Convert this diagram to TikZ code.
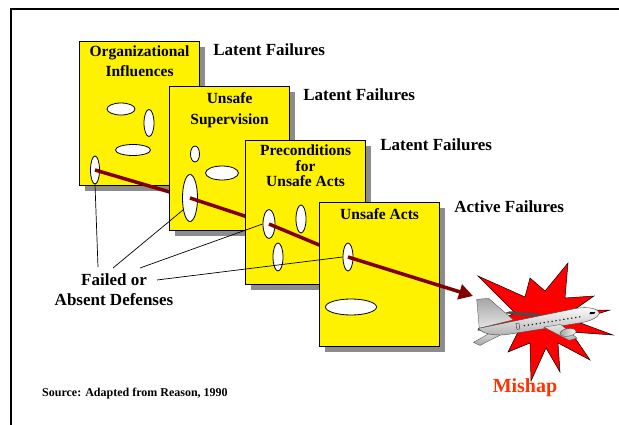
\documentclass[tikz,border=0pt]{standalone}
\usepackage{fontspec}
\setmainfont{Liberation Serif}
\usetikzlibrary{arrows.meta,positioning,calc,shapes.geometric,shadows}

\definecolor{maroon}{RGB}{128,0,0}
\definecolor{mishapred}{RGB}{255,51,0}

\tikzset{
  layer/.style={draw=black, line width=1.2pt, fill=yellow, anchor=north west,
    minimum width=120pt, minimum height=144pt, inner sep=0pt,
    drop shadow={shadow xshift=5pt, shadow yshift=-5pt, fill=gray!90, opacity=1}},
  title/.style={anchor=north, align=center, inner sep=0pt,
    font=\fontsize{15.5}{20}\selectfont\bfseries},
  failure/.style={anchor=west, inner sep=0pt, font=\fontsize{17}{20}\selectfont\bfseries},
  hole/.style={ellipse, draw=black, line width=0.8pt, fill=white, inner sep=0pt},
  trace/.style={maroon, line width=3.5pt},
  leader/.style={black, line width=0.7pt},
  metal/.style={draw=gray!50!black, line width=0.3pt},
}

\begin{document}
\begin{tikzpicture}[x=1pt, y=-1pt]
\useasboundingbox (0,0) rectangle (619,425);
% frame
\draw[line width=1.5pt] (11,425) -- (11,9) -- (619,9);

% where the trajectory passes each layer
\coordinate (g1) at (95,170);
\coordinate (g2) at (190,198);
\coordinate (g3) at (269,224);
\coordinate (g4) at (348,257);
\coordinate (tip) at (473,296);

% layer 1
\node[layer] (org) at (79,41) {};
\node[title] at ([yshift=-5pt]org.north) {Organizational\\Influences};
\node[failure, right=13pt of org.north east, yshift=-9pt] {Latent Failures};
\node[hole, minimum width=28pt, minimum height=12pt] (org-a) at (121,109) {};
\node[hole, minimum width=10pt, minimum height=27pt] (org-b) at (149,123) {};
\node[hole, minimum width=35pt, minimum height=11pt] (org-c) at (133,150) {};
\node[hole, minimum width=9pt, minimum height=28pt] (org-gap) at (g1) {};
\draw[trace] (org-gap.center) -- (g2);

% layer 2
\node[layer] (sup) at (169,86) {};
\node[title, font=\fontsize{15.5}{21}\selectfont\bfseries] at ([yshift=-6pt]sup.north) {Unsafe\\Supervision};
\node[failure, right=13pt of sup.north east, yshift=-9pt] {Latent Failures};
\node[hole, minimum width=9pt, minimum height=16pt] (sup-a) at (195,154) {};
\node[hole, minimum width=33pt, minimum height=14pt] (sup-b) at (222,173) {};
\node[hole, minimum width=15pt, minimum height=47pt] (sup-gap) at (g2) {};
\draw[trace] (sup-gap.center) -- (g3);

% layer 3
\node[layer] (pre) at (245,140) {};
\node[title, font=\fontsize{15.5}{15.5}\selectfont\bfseries] at ([yshift=-5pt]pre.north) {Preconditions\\for\\Unsafe Acts};
\node[failure, right=14pt of pre.north east, yshift=-5pt] {Latent Failures};
\node[hole, minimum width=12pt, minimum height=29pt] (pre-gap) at (g3) {};
\node[hole, minimum width=10pt, minimum height=28pt] (pre-b) at (301,219) {};
\node[hole, minimum width=10pt, minimum height=28pt] (pre-c) at (278,257) {};
\draw[trace] (pre-gap.center) -- (g4);

% layer 4
\node[layer] (act) at (319,202) {};
\node[title] at ([yshift=-6pt]act.north) {Unsafe Acts};
\node[failure, right=14pt of act.north east, yshift=-5pt] {Active Failures};
\node[hole, minimum width=10pt, minimum height=28pt] (act-gap) at (g4) {};
\node[hole, minimum width=51pt, minimum height=16pt] (act-b) at (351,307) {};
\draw[trace, -{Triangle[length=14pt, width=15pt]}] (act-gap.center) -- (tip);

% defences label and leaders
\node[failure, anchor=center, align=center] (defenses) at (114,290) {Failed or\\Absent Defenses};
\coordinate (d1) at (98,267);
\coordinate (d2) at (113,268);
\coordinate (d3) at (140,268);
\coordinate (d4) at (157,280);
\draw[leader] (d1) -- (org-gap.south);
\draw[leader] (d2) -- (sup-gap.240);
\draw[leader] (d3) -- (pre-gap.west);
\draw[leader] (d4) -- (act-gap.west);

% source
\node[anchor=west, inner sep=0pt, font=\fontsize{12}{14}\selectfont\bfseries] (source) at (42,394) {Source: Adapted from Reason, 1990};

% burst
\filldraw[fill=red, draw=black, line width=0.5pt]
  (478,276) -- (525,297) -- (530,278) -- (545,291) -- (568,263) -- (565,298)
  -- (594,296) -- (574,310) -- (610,310) -- (575,321) -- (613,335) -- (571,332)
  -- (590,360) -- (558,343) -- (560,372) -- (546,348) -- (531,381) -- (530,343)
  -- (508,352) -- (518,332) -- (478,330) -- (515,313) -- cycle;

% airliner
\begin{scope}[shift={(538,322)}, rotate=9]
  \fill[gray!60!black] (-4,-6) -- (-32,-14) -- (-26,-15) -- (6,-7) -- cycle;
  \shade[metal, top color=gray!70, bottom color=gray!20]
    (-59,-3) -- (-57,-32) -- (-45,-31) -- (-24,-6) -- cycle;
  \shade[metal, top color=gray!30, bottom color=gray!70]
    (-48,3) -- (-67,10) -- (-61,14) -- (-36,6) -- cycle;
  \shade[metal, line width=0.4pt, top color=white, bottom color=gray!60]
    (-60,-3) -- (40,-7.5) .. controls (54,-7.5) and (62,-3) .. (62,1)
    .. controls (60,5) and (52,7.5) .. (40,7.5) -- (-35,7.5)
    .. controls (-48,6) and (-56,3) .. (-60,-3) -- cycle;
  \foreach \k in {-14,-10,...,42}
    \fill (\k,1.5) circle[radius=0.75];
  \fill (53,-1.5) -- (58,-1) -- (57,0.8) -- (52,0.3) -- cycle;
  \draw[gray!40!black, line width=0.4pt] (-22,-2) rectangle (-19,4);
  \shade[metal, top color=gray!20, bottom color=gray!60]
    (5,6) -- (22,6) -- (36,22) -- (28,23) -- cycle;
  \shade[metal, left color=gray!75, right color=white] (28,15) ellipse (8 and 3.8);
\end{scope}

\node[font=\fontsize{20}{22}\selectfont\bfseries, text=mishapred] (mishap) at (525,388) {Mishap};
\end{tikzpicture}
\end{document}
